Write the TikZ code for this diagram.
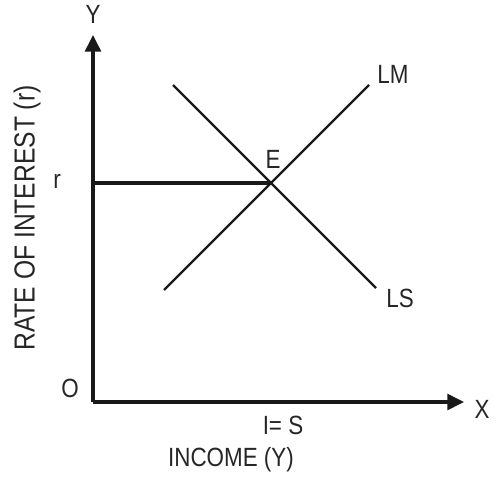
\documentclass[tikz,border=0pt]{standalone}
\usepackage{fontspec}
\setmainfont[FakeStretch=0.85]{Liberation Sans}
\usetikzlibrary{arrows.meta, positioning}

\begin{document}
\begin{tikzpicture}[
    x=0.02cm, y=-0.02cm,
    lbl/.style={inner sep=0pt, font=\fontsize{15}{17}\selectfont, text=black!85},
    axis/.style={-{Triangle[length=9.5pt, width=9pt]}, line width=1.9pt, draw=black!90},
    curve/.style={line width=1.3pt, draw=black!90}
]
\useasboundingbox (0,0) rectangle (499,476);

% 1. Axes points
\coordinate (orig) at (93,402);
\coordinate (ytop) at (93,35);
\coordinate (xend) at (464,402);
\coordinate (E) at (271,183);
\coordinate (rpt) at (93,183);
\coordinate (lmlo) at (164,290);
\coordinate (lmhi) at (369,85);
\coordinate (lshi) at (173,85);
\coordinate (lslo) at (376,288);

% 2. Labels
\node[lbl] (ylab) at (93,14) {Y};
\node[lbl] (xlab) at (482,409) {X};
\node[lbl] (olab) at (70,388) {O};
\node[lbl] (rlab) at (57,181) {r};
\node[lbl] (elab) at (273,159) {E};
\node[lbl] (lmlab) at (393,74) {LM};
\node[lbl] (lslab) at (400,298) {LS};
\node[lbl] (islab) at (283,425) {I= S};
\node[lbl] (inclab) at (231,460) {INCOME (Y)};
\node[lbl, rotate=90, font=\fontsize{16.5}{18}\selectfont] (ratelab) at (27,218) {RATE OF INTEREST (r)};

% 3. Axes
\draw[axis] (orig) -- (ytop);
\draw[axis] (orig) -- (xend);

% 4. Curves
\draw[curve, line width=1.8pt] (rpt) -- (E);
\draw[curve] (lmlo) -- (lmhi);
\draw[curve] (lshi) -- (lslo);

\end{tikzpicture}
\end{document}
